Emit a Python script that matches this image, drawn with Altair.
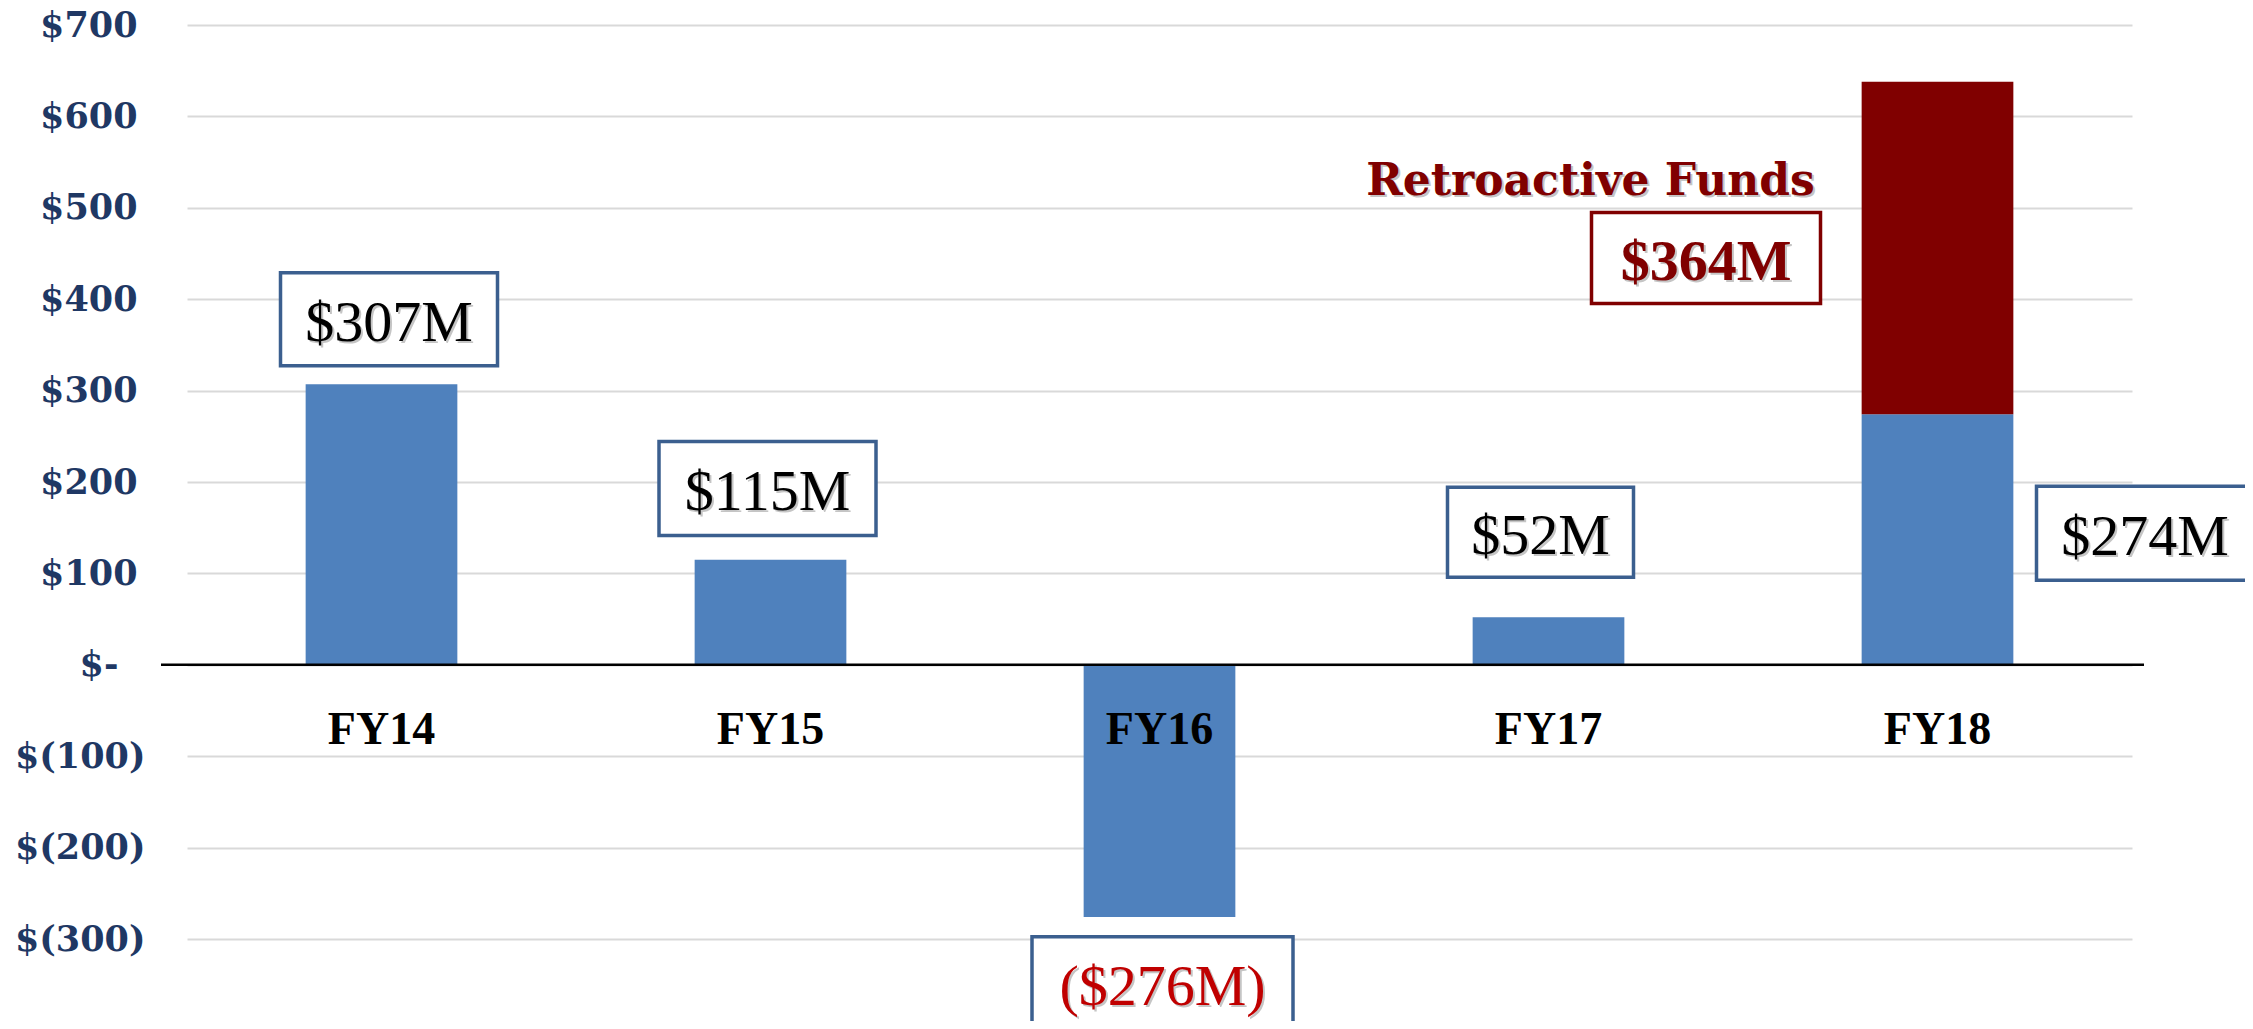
import altair as alt
import pandas as pd

# ---- data ----
years = ["FY14", "FY15", "FY16", "FY17", "FY18"]
base_values = [307, 115, -276, 52, 274]
retro_values = [0, 0, 0, 0, 364]
y_ticks = [-300, -200, -100, 0, 100, 200, 300, 400, 500, 600, 700]
pos_ticks = [100, 200, 300, 400, 500, 600, 700]
zero_ticks = [0]
neg_ticks = [-300, -200, -100]

callout_years = ["FY14", "FY15", "FY16", "FY17", "FY18", "FY18"]
callout_texts = ["$307M", "$115M", "($276M)", "$52M", "$364M", "$274M"]
callout_colors = ["#000000", "#000000", "#C00000", "#000000", "#800000", "#000000"]
callout_strokes = ["#3B5F8F", "#3B5F8F", "#3B5F8F", "#3B5F8F", "#800000", "#3B5F8F"]
callout_weights = ["normal", "normal", "normal", "normal", "bold", "normal"]

retro_label = "Retroactive Funds"
retro_year = "FY18"

# ---- layout / style (positions of callouts) ----
W, H = 1945, 914
PX = H / 1000.0
callout_center = [378, 193, -348, 145, 445, 144]   # vertical centre, in $M units
callout_dx = [7.5, -3, 3, -8, -231.5, 207.5]
callout_w = [217, 217, 261, 186, 229, 217]
callout_h = [93, 94, 92, 90, 91, 94]
retro_y = 514.5
retro_dx = -347

xscale = alt.Scale(domain=years, paddingInner=0.61, paddingOuter=0.305)
yscale = alt.Scale(domain=[-300, 700], nice=False, zero=False)

bars_df = pd.DataFrame({
    "fy": years * 2,
    "series": ["Base"] * 5 + ["Retroactive"] * 5,
    "value": base_values + retro_values,
    "ord": [0] * 5 + [1] * 5,
})

label_expr = (
    "datum.value < 0 ? '$(' + format(-datum.value, 'd') + ')' : "
    "(datum.value == 0 ? '$-' : '$' + format(datum.value, 'd'))"
)

LABEL_STYLE = dict(labelExpr=label_expr, labelFont="DejaVu Serif", labelFontWeight="bold",
                   labelFontSize=35, labelColor="#1F3864", labelAlign="right",
                   tickSize=0, ticks=False, domain=False, grid=False, title=None,
                   orient="left")


def label_axis(values, pad):
    return alt.Axis(values=values, labelPadding=pad, **LABEL_STYLE)


def X(field):
    return alt.X(field, scale=xscale, sort=years, title=None, axis=None)


def Y(field, axis=None):
    return alt.Y(field, scale=yscale, title=None, axis=axis)


bars = alt.Chart(bars_df).mark_bar().encode(
    x=alt.X("fy:N", scale=xscale, sort=years, title=None,
            axis=alt.Axis(labels=False, ticks=False, domain=False, grid=False, title=None)),
    y=alt.Y("value:Q", scale=yscale, stack="zero", title=None,
            axis=alt.Axis(values=y_ticks, labels=False, ticks=False, domain=False,
                          grid=True, gridColor="#D9D9D9", gridWidth=2, title=None,
                          orient="left")),
    color=alt.Color("series:N", scale=alt.Scale(domain=["Base", "Retroactive"],
                                                range=["#4F81BD", "#800000"]), legend=None),
    order=alt.Order("ord:Q"),
)

zero_line = alt.Chart(pd.DataFrame({"v": [0]})).mark_rule(color="black", strokeWidth=2.5).encode(
    x=alt.value(-26), x2=alt.value(W + 12),
    y=Y("v:Q", label_axis(pos_ticks, 50)),
)

xlabels = alt.Chart(pd.DataFrame({"fy": years, "v": [0] * 5})).mark_text(
    font="Liberation Serif", fontWeight="bold", fontSize=46, color="black",
    baseline="alphabetic", align="center", dy=79,
).encode(
    x=X("fy:N"),
    y=Y("v:Q", label_axis(zero_ticks, 69)),
    text="fy:N",
)

layers = [bars, zero_line, xlabels]

for i in range(len(callout_texts)):
    half = callout_h[i] / 2.0 / PX
    d = pd.DataFrame({
        "fy": [callout_years[i]],
        "c": [callout_center[i]],
        "lo": [callout_center[i] - half],
        "hi": [callout_center[i] + half],
        "t": [callout_texts[i]],
    })
    box = alt.Chart(d).mark_bar(
        width=callout_w[i], xOffset=callout_dx[i], fill="white",
        stroke=callout_strokes[i], strokeWidth=3.5,
    ).encode(
        x=X("fy:N"),
        y=Y("lo:Q"),
        y2="hi:Q",
    )
    shadow = alt.Chart(d).mark_text(
        font="Liberation Serif", fontSize=58, fontWeight=callout_weights[i],
        color="#808080", opacity=0.45, baseline="alphabetic", align="center",
        dx=callout_dx[i] + 2, dy=24,
    ).encode(
        x=X("fy:N"),
        y=Y("c:Q"),
        text="t:N",
    )
    txt = alt.Chart(d).mark_text(
        font="Liberation Serif", fontSize=58, fontWeight=callout_weights[i],
        color=callout_colors[i], baseline="alphabetic", align="center",
        dx=callout_dx[i], dy=22,
    ).encode(
        x=X("fy:N"),
        y=Y("c:Q"),
        text="t:N",
    )
    layers += [box, shadow, txt]

rd = pd.DataFrame({"fy": [retro_year], "v": [retro_y], "t": [retro_label]})
retro_shadow = alt.Chart(rd).mark_text(
    font="DejaVu Serif", fontWeight="bold", fontSize=44, color="#808080", opacity=0.45,
    baseline="alphabetic", align="center", dx=retro_dx + 2, dy=2,
).encode(
    x=X("fy:N"),
    y=Y("v:Q"),
    text="t:N",
)
retro_txt = alt.Chart(rd).mark_text(
    font="DejaVu Serif", fontWeight="bold", fontSize=44, color="#800000",
    baseline="alphabetic", align="center", dx=retro_dx,
).encode(
    x=X("fy:N"),
    y=Y("v:Q", label_axis(neg_ticks, 42)),
    text="t:N",
)
layers += [retro_shadow, retro_txt]

chart = alt.layer(*layers).resolve_scale(y="shared").resolve_axis(y="independent").properties(
    width=W, height=H, autosize="none",
    padding={"left": 179, "top": 17, "right": 113, "bottom": 82},
).configure_view(stroke=None)

chart.save("out.html", embed_options={"renderer": "svg", "actions": False})
